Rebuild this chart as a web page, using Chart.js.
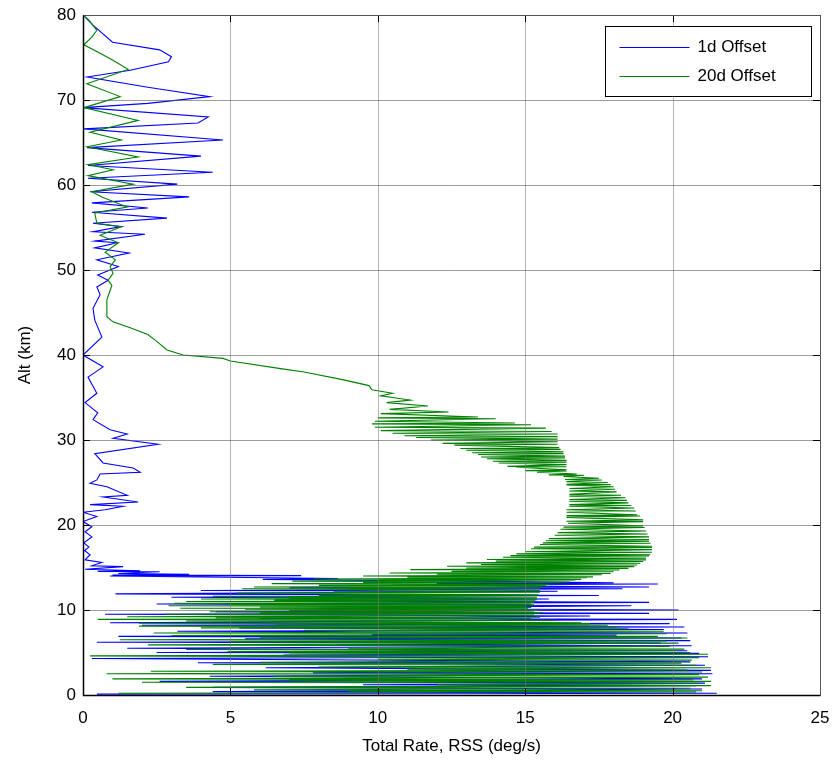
<!DOCTYPE html>
<html>
<head>
<meta charset="utf-8">
<script src="https://cdn.jsdelivr.net/npm/chart.js@4.4.1/dist/chart.umd.min.js"></script>
<style>
  html, body { margin: 0; padding: 0; background: #fff; }
</style>
</head>
<body>
<canvas id="altChart" width="837" height="765"></canvas>
<script>
// Altitude (km) vs total RSS rate (deg/s), one pair of arrays per offset case.
// Points are listed bottom-up; the low layers swing hard left/right.
const alt1d = [
  0.1, 0.2, 0.4, 0.7, 0.9, 1.1, 1.2, 1.4, 1.6, 1.9, 2.2, 2.5, 2.6, 2.9, 3.2, 3.5,
  3.8, 3.9, 4.3, 4.5, 4.7, 4.9, 5.0, 5.2, 5.5, 5.8, 5.9, 6.1, 6.2, 6.4, 6.6, 6.7,
  6.9, 7.05, 7.1, 7.3, 7.5, 7.7, 7.9, 8.0, 8.2, 8.4, 8.5, 8.9, 9.0, 9.3, 9.5, 9.6,
  9.8, 10.0, 10.2, 10.5, 10.7, 10.9, 11.1, 11.3, 11.5, 11.7, 11.9, 12.2, 12.3, 12.5, 12.6, 12.7,
  12.9, 13.06, 13.1, 13.2, 13.4, 13.6, 13.7, 14.0, 14.05, 14.1, 14.2, 14.3, 14.5, 14.55, 14.6, 14.8,
  15.1, 15.2, 15.6, 15.9, 16.5, 17.0, 17.4, 17.9, 18.6, 19.2, 19.8, 20.4, 21.0, 21.5, 21.8, 22.2,
  22.4, 22.7, 23.3, 23.5, 24.5, 24.9, 25.3, 26.0, 26.2, 26.7, 27.3, 28.4, 29.5, 30.2, 30.7, 31.2,
  32.4, 33.2, 34.4, 35.5, 37.4, 38.6, 40.0, 42.1, 44.1, 45.5, 47.1, 48.0, 48.8, 49.4, 50.4, 51.2,
  52.0, 52.6, 53.2, 53.4, 54.2, 54.5, 55.1, 55.5, 56.1, 56.8, 57.3, 57.9, 58.6, 59.2, 60.1, 60.8,
  61.5, 62.3, 63.4, 64.4, 65.3, 66.6, 67.3, 68.0, 69.1, 69.6, 70.4, 71.5, 72.7, 73.5, 74.5, 75.1,
  75.9, 76.8, 78.8, 80.0
];
const rate1d = [
  0.47, 21.5, 4.4, 21.0, 4.4, 20.8, 9.5, 21.1, 2.6, 21.0, 4.3, 21.35, 7.8, 21.3, 6.2, 21.1,
  3.9, 20.6, 0.3, 21.2, 6.8, 20.9, 2.5, 20.5, 1.5, 20.65, 8.6, 19.6, 0.47, 20.6, 5.5, 20.3,
  1.2, 18.1, 9.8, 20.5, 3.2, 19.7, 5.3, 20.4, 2.0, 19.9, 0.92, 20.15, 6.0, 17.2, 0.75, 19.2,
  4.5, 20.2, 8.0, 18.6, 2.5, 19.2, 6.5, 15.8, 3.0, 17.5, 1.1, 16.1, 4.0, 18.3, 7.0, 19.2,
  10.5, 19.5, 12.0, 18.0, 13.0, 6.1, 8.65, 0.92, 7.4, 1.0, 3.6, 1.2, 2.6, 0.5, 1.94, 0.07,
  1.36, 0.3, 0.64, 0.07, 0.24, 0.05, 0.2, 0.03, 0.3, 0.07, 0.3, 0.0, 0.47, 0.0, 0.75, 1.36,
  0.24, 1.87, 0.68, 1.5, 0.81, 0.24, 0.47, 0.58, 1.94, 1.7, 0.68, 0.4, 2.55, 1.02, 1.5, 0.92,
  0.34, 0.5, 0.07, 0.47, 0.17, 0.68, 0.0, 0.64, 0.4, 0.34, 0.58, 0.47, 0.85, 0.5, 1.2, 0.47,
  1.56, 0.4, 1.15, 0.4, 2.1, 0.34, 1.3, 0.34, 2.85, 0.3, 2.2, 0.3, 3.6, 0.24, 3.2, 0.17,
  4.4, 0.17, 4.0, 0.14, 4.75, 0.03, 3.9, 4.25, 0.0, 2.2, 4.3, 2.2, 0.14, 1.6, 2.9, 3.0,
  2.6, 1.0, 0.34, 0.0
];
const alt20d = [
  0.2, 0.35, 0.45, 0.5, 0.6, 0.8, 0.9, 1.1, 1.2, 1.35,
  1.5, 1.6, 1.75, 1.8, 1.9, 2.1, 2.2, 2.4, 2.5, 2.7,
  2.8, 2.95, 3.05, 3.2, 3.3, 3.5, 3.6, 3.75, 3.85, 4.1,
  4.2, 4.4, 4.6, 4.8, 4.95, 5.0, 5.1, 5.25, 5.35, 5.4,
  5.5, 5.7, 5.9, 6.1, 6.25, 6.35, 6.5, 6.7, 6.8, 6.9,
  7.0, 7.2, 7.3, 7.5, 7.6, 7.8, 7.9, 8.0, 8.1, 8.2,
  8.35, 8.4, 8.45, 8.5, 8.7, 8.8, 8.9, 9.0, 9.1, 9.15,
  9.2, 9.4, 9.5, 9.6, 9.65, 9.7, 9.8, 9.9, 9.95, 10.0,
  10.1, 10.15, 10.2, 10.3, 10.35, 10.4, 10.5, 10.6, 10.65, 10.7,
  10.8, 10.9, 11.0, 11.1, 11.15, 11.2, 11.3, 11.4, 11.45, 11.5,
  11.6, 11.7, 11.75, 11.8, 12.0, 12.1, 12.15, 12.3, 12.5, 12.55,
  12.6, 12.65, 12.7, 12.85, 12.9, 13.0, 13.1, 13.2, 13.25, 13.3,
  13.4, 13.5, 13.55, 13.6, 13.65, 13.8, 13.85, 13.9, 14.0, 14.15,
  14.2, 14.3, 14.35, 14.5, 14.55, 14.7, 14.75, 14.9, 14.95, 15.1,
  15.15, 15.3, 15.35, 15.5, 15.55, 15.7, 15.75, 15.9, 15.95, 16.1,
  16.2, 16.35, 16.4, 16.5, 16.6, 16.8, 16.85, 17.1, 17.2, 17.35,
  17.4, 17.5, 17.7, 17.85, 17.9, 18.1, 18.15, 18.3, 18.4, 18.6,
  18.8, 18.95, 19.1, 19.3, 19.5, 19.7, 19.75, 19.9, 20.2, 20.4,
  20.45, 20.6, 20.9, 21.05, 21.1, 21.2, 21.5, 21.65, 21.8, 22.0,
  22.2, 22.3, 22.4, 22.6, 22.8, 22.9, 23.0, 23.2, 23.4, 23.5,
  23.6, 23.9, 24.0, 24.2, 24.3, 24.5, 24.7, 24.75, 24.8, 25.0,
  25.1, 25.3, 25.35, 25.5, 25.7, 25.85, 25.9, 26.0, 26.2, 26.35,
  26.4, 26.5, 26.8, 26.85, 26.9, 27.1, 27.3, 27.4, 27.5, 27.6,
  27.8, 27.9, 28.0, 28.1, 28.3, 28.4, 28.5, 28.6, 28.8, 28.9,
  29.0, 29.1, 29.4, 29.5, 29.6, 29.8, 30.0, 30.1, 30.3, 30.4,
  30.5, 30.7, 30.8, 31.0, 31.1, 31.4, 31.5, 31.8, 31.9, 32.0,
  32.2, 32.5, 32.6, 32.7, 33.1, 33.3, 33.6, 34.0, 34.4, 34.7,
  35.2, 35.5, 35.9, 36.4, 37.1, 38.0, 38.4, 39.3, 39.6, 40.0,
  40.6, 41.6, 42.4, 43.2, 43.9, 44.5, 46.5, 48.2, 48.8, 49.6,
  50.4, 51.2, 52.1, 53.2, 54.1, 55.1, 55.5, 56.7, 57.4, 58.6,
  59.2, 60.1, 61.1, 61.8, 62.4, 63.3, 64.5, 65.3, 66.2, 67.6,
  69.1, 70.4, 71.9, 73.6, 74.7, 75.5, 76.5, 77.4, 78.2, 79.4, 80.0
];
const rate20d = [
  1.2, 20.8, 9.0, 21.0, 5.8, 20.6, 3.5, 21.3, 12.0, 20.9,
  2.0, 21.3, 7.0, 20.7, 1.0, 21.2, 6.5, 20.9, 0.8, 21.0,
  2.3, 20.5, 11.0, 21.3, 8.0, 20.8, 4.4, 20.3, 6.0, 20.65,
  10.0, 20.9, 0.24, 21.2, 7.0, 20.6, 4.9, 20.1, 3.5, 20.4,
  9.0, 19.9, 2.2, 20.2, 5.0, 19.8, 1.25, 20.5, 6.0, 19.5,
  3.0, 19.8, 2.4, 19.7, 7.5, 18.5, 4.0, 18.2, 1.9, 17.8,
  6.5, 17.2, 1.9, 16.9, 3.5, 16.0, 0.5, 15.2, 4.5, 15.5,
  1.5, 15.3, 2.8, 15.5, 6.0, 15.6, 4.3, 15.3, 7.0, 15.4,
  5.5, 15.1, 3.3, 15.2, 6.0, 15.0, 2.9, 15.3, 5.0, 15.2,
  3.1, 15.3, 3.5, 15.35, 6.5, 15.4, 4.0, 15.4, 7.0, 15.4,
  4.4, 15.45, 8.0, 15.45, 5.2, 15.5, 8.5, 15.5, 5.4, 15.5,
  9.0, 15.6, 5.8, 15.7, 8.0, 15.8, 6.4, 16.2, 9.5, 16.5,
  7.1, 16.7, 10.0, 16.9, 7.8, 17.1, 11.0, 17.3, 9.5, 17.6,
  12.0, 17.9, 10.4, 18.0, 12.5, 18.2, 11.1, 18.5, 13.0, 18.7,
  12.35, 18.8, 13.5, 18.9, 13.0, 19.0, 14.0, 19.1, 13.7, 19.1,
  14.25, 19.2, 14.5, 19.25, 14.7, 19.3, 15.0, 19.3, 15.2, 19.3,
  15.3, 19.3, 15.5, 19.25, 15.6, 19.2, 15.7, 19.2, 15.8, 19.2,
  16.0, 19.15, 16.1, 19.1, 16.2, 19.05, 16.3, 19.0, 16.45, 19.0,
  16.4, 19.0, 16.4, 18.9, 16.4, 18.8, 16.4, 18.75, 16.4, 18.7,
  16.5, 18.6, 16.5, 18.5, 16.5, 18.45, 16.5, 18.4, 16.5, 18.25,
  16.5, 18.1, 16.5, 18.05, 16.5, 18.0, 16.4, 17.9, 16.4, 17.8,
  16.4, 17.6, 16.35, 17.5, 16.3, 17.0, 15.8, 16.75, 15.4, 16.4,
  15.0, 16.4, 14.7, 16.4, 14.4, 16.4, 14.1, 16.4, 13.9, 16.4,
  13.7, 16.35, 13.5, 16.35, 13.4, 16.3, 13.2, 16.3, 13.0, 16.2,
  12.8, 16.15, 12.6, 16.1, 12.2, 16.1, 11.8, 16.1, 11.3, 16.1,
  10.9, 16.1, 10.5, 15.9, 10.1, 15.7, 9.9, 15.2, 9.8, 14.65,
  9.9, 14.0, 10.0, 13.4, 10.1, 12.4, 10.4, 11.7, 10.3, 11.1,
  10.1, 10.5, 9.8, 9.7, 8.8, 7.5, 6.7, 5.0, 4.75, 3.4,
  2.85, 2.5, 2.2, 1.6, 1.02, 0.81, 0.81, 0.98, 0.85, 1.02,
  0.92, 1.1, 0.75, 1.2, 0.58, 1.3, 0.47, 0.4, 1.5, 0.64,
  0.3, 1.7, 0.17, 1.02, 0.17, 1.87, 0.14, 1.3, 0.24, 1.87,
  0.03, 1.26, 0.13, 1.53, 1.0, 0.58, 0.03, 0.3, 0.47, 0.2, 0.0
];

const seriesNames = ['1d Offset', '20d Offset'];
const seriesColors = ['#0000ff', '#008000'];
const xTicks = [0, 5, 10, 15, 20, 25];
const yTicks = [0, 10, 20, 30, 40, 50, 60, 70, 80];

const FONT = '"Liberation Sans", Arial, Helvetica, sans-serif';

function toPoints(alts, rates) {
  return alts.map((a, i) => ({ x: rates[i], y: a }));
}

// grid, box and inward tick marks drawn on top of the traces
const axesBox = {
  id: 'axesBox',
  afterDatasetsDraw(chart) {
    const { ctx, chartArea: a, scales } = chart;
    const sx = scales.x, sy = scales.y;
    const tick = 7;
    ctx.save();
    ctx.lineWidth = 1;

    ctx.strokeStyle = 'rgba(120,120,120,0.55)';
    xTicks.slice(1, -1).forEach(v => {
      const px = Math.round(sx.getPixelForValue(v)) + 0.5;
      ctx.beginPath(); ctx.moveTo(px, a.top); ctx.lineTo(px, a.bottom); ctx.stroke();
    });
    ctx.strokeStyle = 'rgba(90,90,90,0.6)';
    yTicks.slice(1, -1).forEach(v => {
      const py = Math.round(sy.getPixelForValue(v)) + 0.5;
      ctx.beginPath(); ctx.moveTo(a.left, py); ctx.lineTo(a.right, py); ctx.stroke();
    });

    ctx.strokeStyle = '#000';
    xTicks.forEach(v => {
      const px = Math.round(sx.getPixelForValue(v)) + 0.5;
      ctx.beginPath();
      ctx.moveTo(px, a.bottom); ctx.lineTo(px, a.bottom - tick);
      ctx.moveTo(px, a.top); ctx.lineTo(px, a.top + tick);
      ctx.stroke();
    });
    yTicks.forEach(v => {
      const py = Math.round(sy.getPixelForValue(v)) + 0.5;
      ctx.beginPath();
      ctx.moveTo(a.left, py); ctx.lineTo(a.left + tick, py);
      ctx.moveTo(a.right, py); ctx.lineTo(a.right - tick, py);
      ctx.stroke();
    });

    const l = Math.round(a.left) + 0.5, r = Math.round(a.right) + 0.5;
    const t = Math.round(a.top) + 0.5, b = Math.round(a.bottom) + 0.5;
    ctx.strokeStyle = '#555';
    ctx.beginPath(); ctx.moveTo(l, t); ctx.lineTo(r, t); ctx.lineTo(r, b); ctx.stroke();
    ctx.strokeStyle = '#000';
    ctx.lineWidth = 1.5;
    ctx.beginPath(); ctx.moveTo(l, t); ctx.lineTo(l, b); ctx.lineTo(r, b); ctx.stroke();
    ctx.restore();
  },
  afterDraw(chart) {
    // boxed legend in the upper right of the axes
    const { ctx } = chart;
    const box = { x: 605.5, y: 26.5, w: 206, h: 70 };
    ctx.save();
    ctx.fillStyle = '#fff';
    ctx.fillRect(box.x, box.y, box.w, box.h);
    ctx.strokeStyle = '#000';
    ctx.lineWidth = 1;
    ctx.strokeRect(box.x, box.y, box.w, box.h);
    ctx.font = '17px ' + FONT;
    ctx.textBaseline = 'middle';
    seriesNames.forEach((name, i) => {
      const y = Math.round(box.y + 20 + i * 29) + 0.5;
      ctx.strokeStyle = seriesColors[i];
      ctx.lineWidth = 1.2;
      ctx.beginPath(); ctx.moveTo(box.x + 14, y); ctx.lineTo(box.x + 84, y); ctx.stroke();
      ctx.fillStyle = '#000';
      ctx.fillText(name, box.x + 92, y);
    });
    ctx.restore();
  }
};

new Chart(document.getElementById('altChart'), {
  type: 'scatter',
  data: {
    datasets: [
      {
        label: seriesNames[0],
        data: toPoints(alt1d, rate1d),
        borderColor: seriesColors[0],
        order: 1
      },
      {
        label: seriesNames[1],
        data: toPoints(alt20d, rate20d),
        borderColor: seriesColors[1],
        order: 0
      }
    ]
  },
  options: {
    responsive: false,
    animation: false,
    showLine: true,
    layout: { padding: { left: 0, top: 15, right: 17, bottom: 0 } },
    elements: {
      point: { radius: 0, hoverRadius: 0 },
      line: { borderWidth: 1.1, tension: 0, fill: false }
    },
    scales: {
      x: {
        type: 'linear',
        min: 0,
        max: 25,
        afterBuildTicks: s => { s.ticks = xTicks.map(v => ({ value: v })); },
        // fixed axis band; edge labels may hang into the page margin
        afterFit: s => { s.height = 70; s.paddingLeft = 0; s.paddingRight = 0; },
        grid: { display: false, drawTicks: false },
        border: { display: false },
        ticks: { color: '#000', padding: 13, font: { family: FONT, size: 17 } },
        title: {
          display: true,
          text: 'Total Rate, RSS (deg/s)',
          color: '#000',
          padding: { top: 0, bottom: 8 },
          font: { family: FONT, size: 17 }
        }
      },
      y: {
        type: 'linear',
        min: 0,
        max: 80,
        afterBuildTicks: s => { s.ticks = yTicks.map(v => ({ value: v })); },
        afterFit: s => { s.width = 83; s.paddingTop = 0; s.paddingBottom = 0; },
        grid: { display: false, drawTicks: false },
        border: { display: false },
        ticks: { color: '#000', padding: 7, font: { family: FONT, size: 17 } },
        title: {
          display: true,
          text: 'Alt (km)',
          color: '#000',
          padding: { top: 15, bottom: 0 },
          font: { family: FONT, size: 17 }
        }
      }
    },
    plugins: {
      legend: { display: false },
      tooltip: { enabled: false }
    }
  },
  plugins: [axesBox]
});
</script>
</body>
</html>
